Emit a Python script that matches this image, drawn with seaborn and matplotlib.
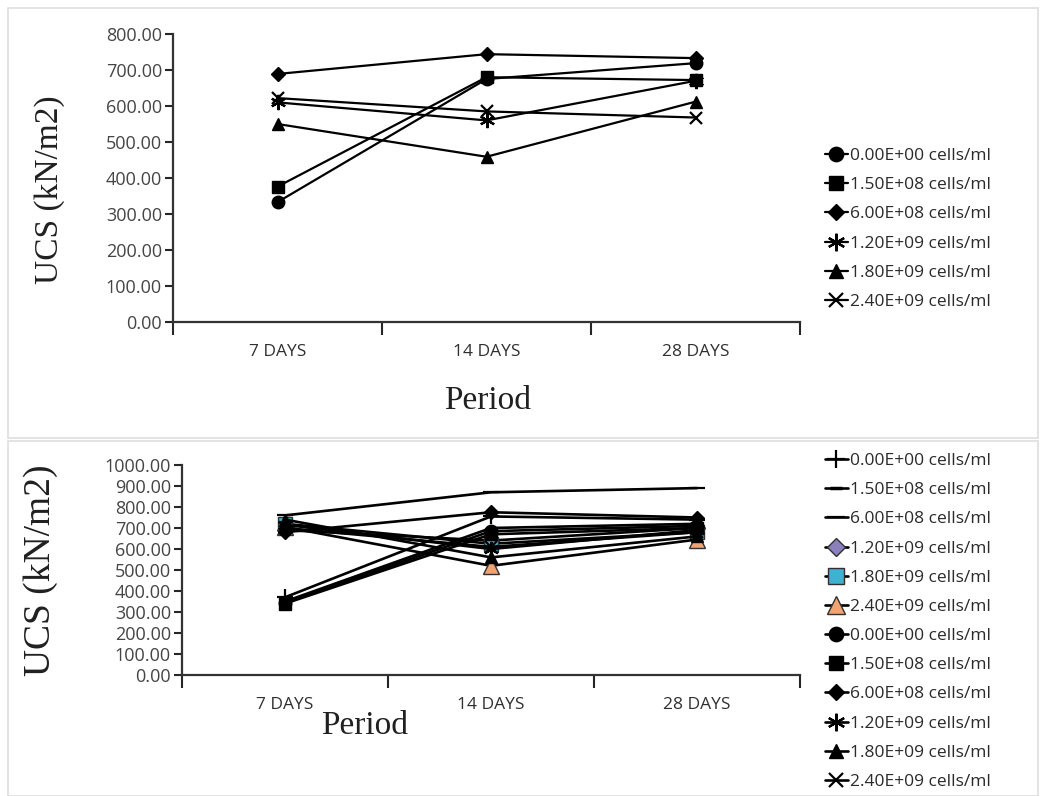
import numpy as np
import pandas as pd
import matplotlib
matplotlib.use("Agg")
import matplotlib.pyplot as plt
import seaborn as sns
from matplotlib.patches import Rectangle

periods = ["7 DAYS", "14 DAYS", "28 DAYS"]
doses = ["0.00E+00 cells/ml", "1.50E+08 cells/ml", "6.00E+08 cells/ml",
         "1.20E+09 cells/ml", "1.80E+09 cells/ml", "2.40E+09 cells/ml"]

# top chart values (kN/m2)
top_0 = [333, 675, 719]
top_15e8 = [376, 680, 672]
top_6e8 = [689, 744, 733]
top_12e9 = [610, 560, 670]
top_18e9 = [550, 459, 612]
top_24e9 = [622, 585, 568]

# bottom chart values (kN/m2)
bot_plus = [370, 755, 740]
bot_dash1 = [350, 700, 720]
bot_dash2 = [760, 870, 890]
bot_purple = [690, 640, 700]
bot_cyan = [720, 625, 680]
bot_orange = [705, 520, 645]
bot_0 = [345, 685, 710]
bot_15e8 = [340, 670, 700]
bot_6e8 = [680, 775, 750]
bot_12e9 = [715, 600, 690]
bot_18e9 = [740, 560, 660]
bot_24e9 = [700, 610, 680]

sns.set_style("ticks")
plt.rcParams['font.family'] = ['Open Sans', 'DejaVu Sans']

ASTER = (6, 2, 0)

top_series = [
    (top_0, 'o', 'black', 9),
    (top_15e8, 's', 'black', 9),
    (top_6e8, 'D', 'black', 7),
    (top_12e9, ASTER, 'black', 11),
    (top_18e9, '^', 'black', 9),
    (top_24e9, 'x', 'black', 9),
]
bot_series = [
    (bot_plus, '+', 'black', 11),
    (bot_dash1, '_', 'black', 7),
    (bot_dash2, '_', 'black', 11),
    (bot_purple, 'D', '#8b80bb', 8),
    (bot_cyan, 's', '#3fb2d2', 10),
    (bot_orange, '^', '#f2a372', 11),
    (bot_0, 'o', 'black', 9),
    (bot_15e8, 's', 'black', 9),
    (bot_6e8, 'D', 'black', 7),
    (bot_12e9, ASTER, 'black', 11),
    (bot_18e9, '^', 'black', 9),
    (bot_24e9, 'x', 'black', 9),
]

fig = plt.figure(figsize=(10.42, 7.96), dpi=100)
fig.patch.set_facecolor('white')

# panel frames
fig.add_artist(Rectangle((8 / 1042, 1 - 438 / 796), 1030 / 1042, 430 / 796,
                         transform=fig.transFigure, fill=False, ec='#dedede', lw=1.2))
fig.add_artist(Rectangle((8 / 1042, 0), 1030 / 1042, 355 / 796,
                         transform=fig.transFigure, fill=False, ec='#dedede', lw=1.2))

ax1 = fig.add_axes([173 / 1042, 1 - 322 / 796, 627 / 1042, 288 / 796])
ax2 = fig.add_axes([182 / 1042, 1 - 675 / 796, 618 / 1042, 210 / 796])


def draw(ax, series, labels, lw):
    for (vals, mk, fc, ms), lab in zip(series, labels):
        ec = 'black' if fc == 'black' else '#303030'
        mew = 1.0
        if mk in ('x', '+', '_') or mk == ASTER:
            mew = 1.6 if ms > 8 else 2.5
        sns.lineplot(x=periods, y=vals, ax=ax, color='black', lw=lw,
                     marker=mk, markersize=ms, markerfacecolor=fc,
                     markeredgecolor=ec, markeredgewidth=mew, label=lab)


def style_axes(ax, ymax, step, ylab_size):
    ax.set_xlim(-0.5, 2.5)
    ax.set_ylim(0, ymax)
    ax.set_yticks(np.arange(0, ymax + 1, step))
    ax.set_yticklabels([f"{v:.2f}" for v in np.arange(0, ymax + 1, step)],
                       fontsize=13, color='#454545')
    ax.set_xticks([0, 1, 2])
    ax.set_xticklabels(periods, fontsize=12.5, color='#303030')
    ax.set_xticks([-0.5, 0.5, 1.5, 2.5], minor=True)
    ax.tick_params(axis='x', which='major', length=0, pad=16)
    ax.tick_params(axis='x', which='minor', length=9, width=1.5, direction='out')
    ax.tick_params(axis='y', length=6, width=1.5, direction='out', pad=2)
    for s in ['top', 'right']:
        ax.spines[s].set_visible(False)
    for s in ['left', 'bottom']:
        ax.spines[s].set_linewidth(1.6)
        ax.spines[s].set_color('#333333')
    ax.set_xlabel("Period", family='Liberation Serif', fontsize=24, color='#202020')
    ax.set_ylabel("UCS (kN/m2)", family='Liberation Serif', fontsize=ylab_size,
                  color='#202020')


def add_legend(ax, top_px):
    leg = ax.legend(loc='upper left', bbox_to_anchor=(818 / 1042, 1 - top_px / 796),
                    bbox_transform=fig.transFigure, frameon=False, fontsize=12.5,
                    handlelength=1.3, handletextpad=0.15, labelspacing=0.75,
                    borderaxespad=0, markerscale=1.15)
    for t in leg.get_texts():
        t.set_color('#2a2a2a')


draw(ax1, top_series, doses, 1.6)
style_axes(ax1, 800, 100, 24)
ax1.xaxis.set_label_coords(0.502, -0.22)
ax1.yaxis.set_label_coords(-0.172, 0.46)
add_legend(ax1, 141)

draw(ax2, bot_series, doses + doses, 1.9)
style_axes(ax2, 1000, 100, 27)
ax2.xaxis.set_label_coords(0.296, -0.17)
ax2.yaxis.set_label_coords(-0.2, 0.5)
add_legend(ax2, 446)

fig.savefig("out.png", dpi=100)
